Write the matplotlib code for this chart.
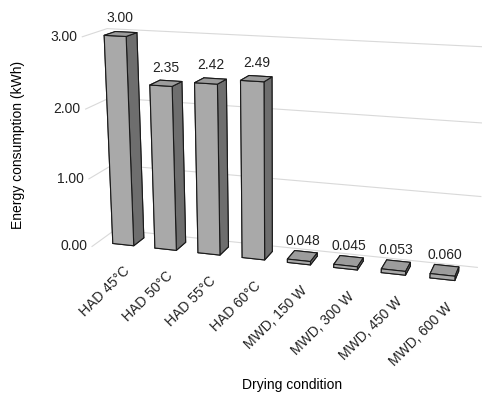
import matplotlib.pyplot as plt
import numpy as np
from mpl_toolkits.mplot3d import proj3d

plt.rcParams["font.family"] = ["Liberation Sans", "DejaVu Sans"]
plt.rcParams["font.size"] = 10

conditions = ["HAD 45°C", "HAD 50°C", "HAD 55°C", "HAD 60°C",
              "MWD, 150 W", "MWD, 300 W", "MWD, 450 W", "MWD, 600 W"]
energy = [3.00, 2.35, 2.42, 2.49, 0.048, 0.045, 0.053, 0.060]
value_labels = ["3.00", "2.35", "2.42", "2.49", "0.048", "0.045", "0.053", "0.060"]
z_ticks = [0.0, 1.0, 2.0, 3.0]
z_tick_labels = ["0.00", "1.00", "2.00", "3.00"]

fig = plt.figure(figsize=(4.82, 4.03), dpi=100)
ax = fig.add_axes([0.115, 0.15, 0.91, 0.92], projection="3d")
ax.view_init(elev=15, azim=-73)
ax.set_proj_type("persp", focal_length=0.55)

n = len(energy)
width = 0.5
depth = 0.45
xpos = np.arange(n) - width / 2
ypos = np.full(n, 0.5 - depth / 2)
zpos = np.zeros(n)

# face order used by bar3d: bottom, top, front, back, left, right
face_colors = ["#8c8c8c", "#9c9c9c", "#a9a9a9", "#a9a9a9", "#6e6e6e", "#6e6e6e"]
ax.bar3d(xpos, ypos, zpos, width, depth, energy, color=face_colors * n,
         edgecolor="#1a1a1a", linewidth=0.8, shade=False)

for i, (v, lab) in enumerate(zip(energy, value_labels)):
    ax.text(i, 0.5, v + 0.12, lab, ha="center", va="bottom", fontsize=10, color="#222222")

x0, x1 = -0.6, n - 0.4
ax.set_xlim(x0, x1)
ax.set_ylim(0, 1)
ax.set_zlim(0, 3)
ax.set_box_aspect((8.2, 1.2, 4.6), zoom=1.2)

ax.set_xticks(range(n))
ax.set_xticklabels([])
ax.set_yticks([])
ax.set_zticks(z_ticks)
ax.set_zticklabels([])

for t, lab in zip(z_ticks, z_tick_labels):
    ax.text(x0 - 0.1, 0, t, lab, ha="right", va="center", fontsize=10, color="#222222")

# category labels: project the front floor edge and write rotated 2D text there
M = ax.get_proj()
for i, lab in enumerate(conditions):
    px, py, _ = proj3d.proj_transform(i + 0.12, 0, -0.2, M)
    ax.text2D(px, py, lab, transform=ax.transData, ha="right", va="top", rotation=45,
              rotation_mode="anchor", fontsize=10, color="#222222")

for axis in (ax.xaxis, ax.yaxis, ax.zaxis):
    axis.set_pane_color((1, 1, 1, 0))
    axis.pane.set_edgecolor("#d9d9d9")
    axis.line.set_color((1, 1, 1, 0))
    axis._axinfo["tick"]["inward_factor"] = 0
    axis._axinfo["tick"]["outward_factor"] = 0
ax.xaxis._axinfo["grid"]["color"] = (1, 1, 1, 0)
ax.yaxis._axinfo["grid"]["color"] = (1, 1, 1, 0)
ax.zaxis._axinfo["grid"]["color"] = "#d9d9d9"
ax.zaxis._axinfo["grid"]["linewidth"] = 0.8

fig.text(0.038, 0.64, "Energy consumption (kWh)", rotation=90, ha="center", va="center", fontsize=10)
fig.text(0.605, 0.045, "Drying condition", ha="center", va="center", fontsize=10)

fig.savefig("out.png", dpi=100)
